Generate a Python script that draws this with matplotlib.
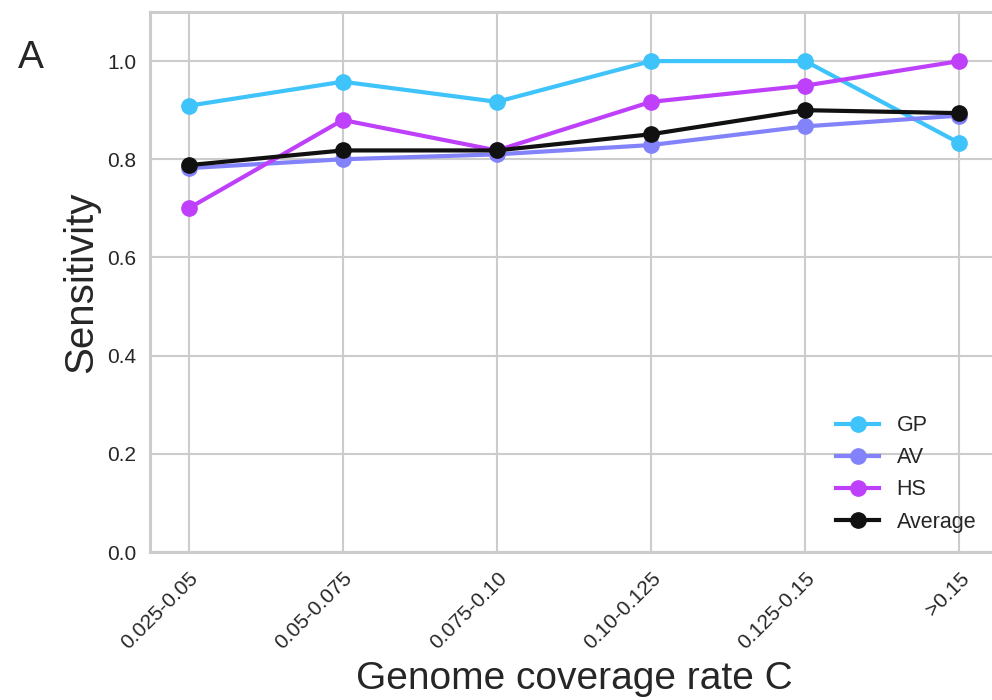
import matplotlib
matplotlib.use("Agg")
import matplotlib.pyplot as plt

categories = ["0.025-0.05", "0.05-0.075", "0.075-0.10", "0.10-0.125", "0.125-0.15", ">0.15"]
gp = [0.909, 0.958, 0.917, 1.0, 1.0, 0.833]
av = [0.782, 0.800, 0.810, 0.829, 0.867, 0.889]
hs = [0.700, 0.880, 0.818, 0.917, 0.950, 1.0]
average = [0.788, 0.818, 0.818, 0.851, 0.900, 0.894]
yticks = [0.0, 0.2, 0.4, 0.6, 0.8, 1.0]

series = [("GP", gp, "#3fc3fb"), ("AV", av, "#8282fa"), ("HS", hs, "#bf40fa"), ("Average", average, "#111111")]

plt.rcParams['font.family'] = ['Liberation Sans', 'DejaVu Sans']

fig = plt.figure(figsize=(9.92, 7.0), dpi=100)
ax = fig.add_axes([150/992, 1 - 552/700, 848/992, 540/700])

x = list(range(len(categories)))
for name, vals, col in series:
    ax.plot(x, vals, color=col, lw=3, marker="o", ms=11, label=name, zorder=3)

ax.set_xlim(-0.25, 5.25)
ax.set_ylim(0, 1.1)
ax.set_xticks(x)
ax.set_xticklabels(categories, rotation=45, ha="right", rotation_mode="anchor", fontsize=15, color="#262626")
ax.set_yticks(yticks)
ax.set_yticklabels([f"{v:.1f}" for v in yticks], fontsize=15, color="#262626")
ax.tick_params(length=0, pad=10)
ax.tick_params(axis="x", pad=12)
ax.grid(True, color="#cccccc", lw=1.5)
ax.set_axisbelow(True)
for s in ax.spines.values():
    s.set_color("#cccccc")
    s.set_linewidth(2.2)

ax.set_ylabel("Sensitivity", fontsize=29, color="#262626", labelpad=5)
ax.set_xlabel("Genome coverage rate C", fontsize=28, color="#262626", labelpad=6)

leg = ax.legend(loc="lower right", bbox_to_anchor=(0.997, 0.0), frameon=False, fontsize=15.5,
                handlelength=2.0, labelspacing=0.52, handletextpad=0.8)
for t in leg.get_texts():
    t.set_color("#262626")

fig.text(18/992, 1 - 68/700, "A", fontsize=28, color="#262626")

fig.savefig("out.png", dpi=100)
